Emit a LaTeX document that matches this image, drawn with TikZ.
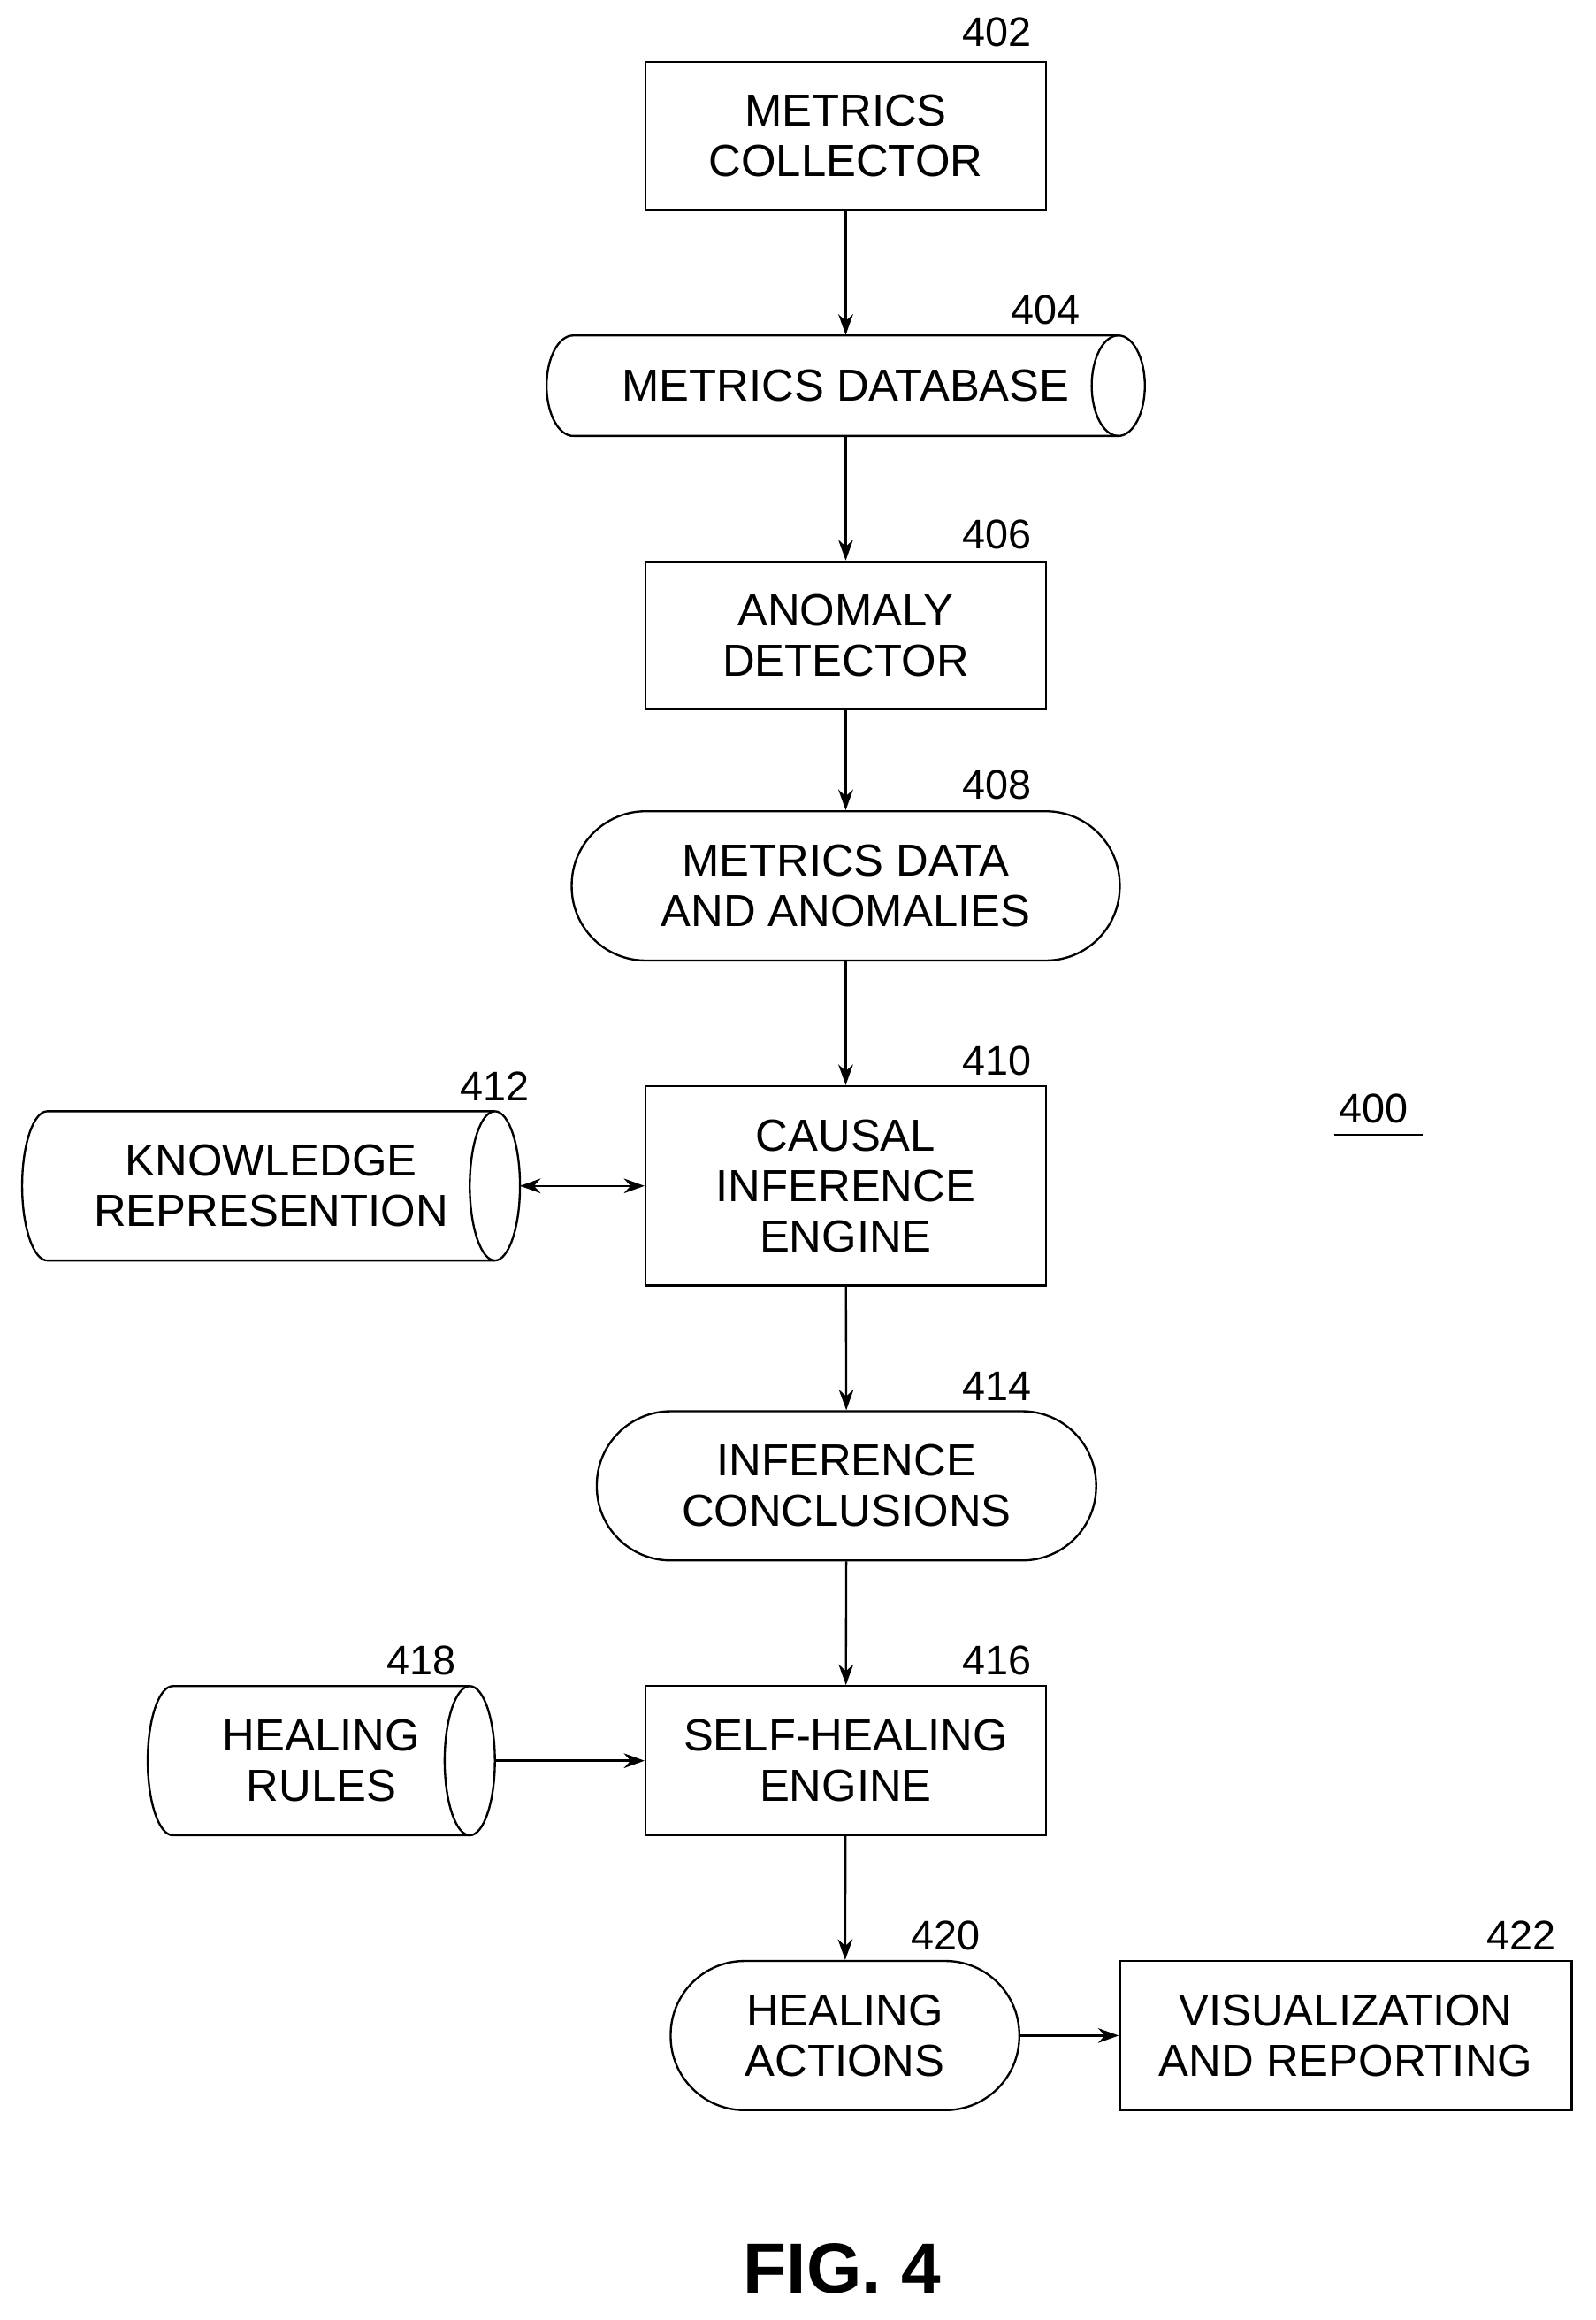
\documentclass[tikz,border=0pt]{standalone}
\usepackage{fontspec}
\setmainfont{Liberation Sans}
\usetikzlibrary{arrows.meta}
\begin{document}
\begin{tikzpicture}[x=0.5pt,y=-0.5pt,
  txt/.style={align=center,font=\fontsize{15.2}{17}\selectfont},
  box/.style={txt,draw,line width=0.7pt,inner sep=0pt},
  lab/.style={font=\fontsize{14}{16}\selectfont,inner sep=0pt},
  arr/.style={-{Stealth[length=7pt,width=5pt]},line width=0.7pt},
  ln/.style={line width=0.7pt}]
\useasboundingbox (0,0) rectangle (1080,1570);
% rectangles
\node[box,minimum width=135.5pt,minimum height=50pt] (n402) at (572.5,92) {METRICS\\COLLECTOR};
\node[box,minimum width=135.5pt,minimum height=50pt] (n406) at (572.5,430) {ANOMALY\\DETECTOR};
\node[box,minimum width=135.5pt,minimum height=67.5pt] (n410) at (572.5,802.5) {CAUSAL\\INFERENCE\\ENGINE};
\node[box,minimum width=135.5pt,minimum height=50.5pt] (n416) at (572.5,1191.5) {SELF-HEALING\\ENGINE};
\node[box,minimum width=153pt,minimum height=50.5pt] (n422) at (911,1377.5) {VISUALIZATION\\AND REPORTING};
% stadiums
\node[box,rounded corners=25pt,minimum width=185.5pt,minimum height=50.5pt] (n408) at (572.5,599.5) {METRICS DATA\\AND ANOMALIES};
\node[box,rounded corners=25pt,minimum width=169pt,minimum height=50.5pt] (n414) at (573,1005.5) {INFERENCE\\CONCLUSIONS};
\node[box,rounded corners=25pt,minimum width=118pt,minimum height=50.5pt] (n420) at (572,1377.5) {HEALING\\ACTIONS};
% cylinders
\node[txt,minimum width=202pt,minimum height=34pt,inner sep=0pt] (n404) at (572.5,261) {METRICS DATABASE};
\draw[ln] (757,227) -- (388,227) arc[start angle=-90,end angle=-270,x radius=18,y radius=34] -- (757,295);
\draw[ln] (757,261) ellipse[x radius=18,y radius=34];
\node[txt,minimum width=168pt,minimum height=50.5pt,inner sep=0pt] (n412) at (183.5,802.5) {KNOWLEDGE\\REPRESENTION};
\draw[ln] (335,752) -- (32,752) arc[start angle=-90,end angle=-270,x radius=17,y radius=50.5] -- (335,853);
\draw[ln] (335,802.5) ellipse[x radius=17,y radius=50.5];
\node[txt,minimum width=117pt,minimum height=50.5pt,inner sep=0pt] (n418) at (217.5,1191.5) {HEALING\\RULES};
\draw[ln] (318,1141) -- (117,1141) arc[start angle=-90,end angle=-270,x radius=17,y radius=50.5] -- (318,1242);
\draw[ln] (318,1191.5) ellipse[x radius=17,y radius=50.5];
% labels
\node[lab] at (675,22) {402};
\node[lab] at (708,210) {404};
\node[lab] at (675,362) {406};
\node[lab] at (675,531) {408};
\node[lab] at (675,718) {410};
\node[lab] at (335,735) {412};
\node[lab] at (675,938) {414};
\node[lab] at (675,1124) {416};
\node[lab] at (285,1124) {418};
\node[lab] at (640,1310) {420};
\node[lab] at (1030,1310) {422};
\node[lab] (n400) at (930,750) {400};
\draw[ln] (903,768) -- (963,768);
\node[font=\fontsize{24}{28}\selectfont\bfseries] (fig) at (570,1535) {FIG. 4};
% connectors
\draw[arr] (n402) -- (n404.north -| n402);
\draw[arr] (n404.south) -- (n406);
\draw[arr] (n406) -- (n408);
\draw[arr] (n408) -- (n410);
\draw[arr] (n410) -- (n414);
\draw[arr] (n414) -- (n416);
\draw[arr] (n416) -- (n420);
\draw[arr] (n420) -- (n422);
\draw[{Stealth[length=7pt,width=5pt]}-{Stealth[length=7pt,width=5pt]},line width=0.7pt] (352,802.5) -- (n410.west);
\draw[arr] (335,1191.5) -- (n416.west);
\end{tikzpicture}
\end{document}
